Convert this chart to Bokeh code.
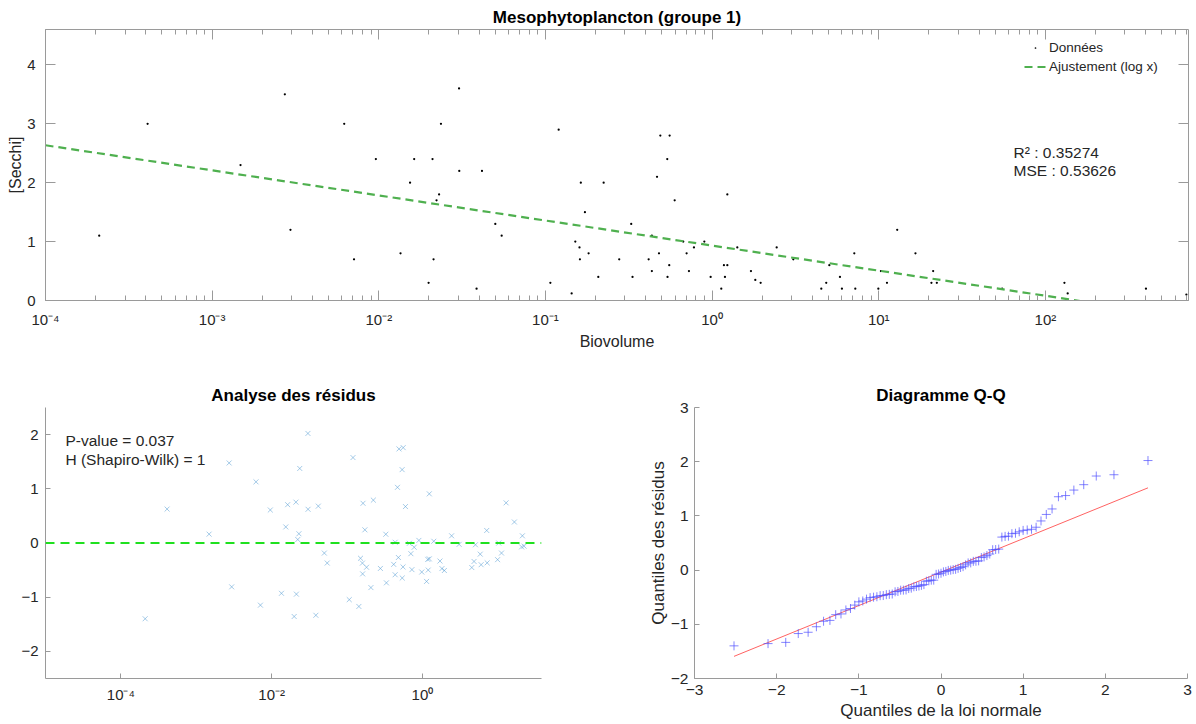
import numpy as np
from statistics import NormalDist
from bokeh.plotting import figure
from bokeh.models import (LogAxis, LinearAxis, Label, Legend, LegendItem,
                          CustomJSTickFormatter, FixedTicker, Range1d, Span)
from bokeh.layouts import column, row
from bokeh.embed import file_html
from bokeh.resources import INLINE

# ---------------- data ----------------
biovolume = [2.1e-4, 4.1e-4, 1.48e-3, 2.73e-3, 2.95e-3, 6.2e-3, 7.1e-3, 9.6e-3,
             0.0135, 0.0154, 0.0163, 0.0199, 0.0210, 0.0213, 0.0222, 0.0230,
             0.0236, 0.0303, 0.0304, 0.0386, 0.0416, 0.050, 0.0546, 0.107,
             0.120, 0.1436, 0.151, 0.160, 0.161, 0.163, 0.1725, 0.1815,
             0.2075, 0.2234, 0.277, 0.327, 0.333, 0.416, 0.435, 0.435,
             0.467, 0.48, 0.489, 0.538, 0.54, 0.553, 0.556, 0.596,
             0.671, 0.703, 0.726, 0.778, 0.898, 0.98, 1.135, 1.177,
             1.194, 1.234, 1.234, 1.416, 1.71, 1.816, 1.955, 2.44,
             3.07, 4.52, 4.84, 5.05, 5.85, 6.01, 7.13, 7.23,
             9.94, 10.3, 11.2, 12.9, 16.6, 20.7, 21.2, 22.3,
             55.0, 130.0, 136.0, 401.0, 701.0]
secchi = [1.10, 3.00, 2.30, 3.50, 1.20, 3.00, 0.70, 2.40,
          0.80, 2.00, 2.40, 0.30, 2.40, 0.70, 1.70, 1.80,
          3.00, 3.60, 2.20, 0.20, 2.20, 1.30, 1.10, 0.30,
          2.90, 0.12, 1.00, 0.90, 0.70, 2.00, 1.50, 0.80,
          0.40, 2.00, 0.70, 1.30, 0.40, 0.70, 1.10, 0.50,
          2.10, 0.80, 2.80, 2.40, 0.40, 0.60, 2.80, 1.70,
          1.00, 0.80, 0.50, 0.90, 1.00, 0.40, 0.20, 0.60,
          0.40, 0.60, 1.80, 0.90, 0.50, 0.35, 0.30, 0.90,
          0.70, 0.20, 0.30, 0.60, 0.40, 0.20, 0.80, 0.20,
          0.20, 0.50, 0.30, 1.20, 0.80, 0.30, 0.50, 0.30,
          0.20, 0.30, 0.12, 0.20, 0.10]

fit_intercept = 0.932      # Secchi = a + b*log10(Biovolume)
fit_slope = -0.4257
r2_value = "0.35274"
mse_value = "0.53626"
p_value = "0.037"
h_shapiro = "1"

titles = ["Mesophytoplancton (groupe 1)", "Analyse des résidus", "Diagramme Q-Q"]

# derived quantities (residuals and Q-Q from the data above)
bio = np.array(biovolume)
sec = np.array(secchi)
fit_x = np.array([1e-4, 722.0])
fit_y = fit_intercept + fit_slope * np.log10(fit_x)
resid = sec - (fit_intercept + fit_slope * np.log10(bio))
n = len(resid)
qq_y = np.sort(resid)
nd = NormalDist()
qq_x = np.array([nd.inv_cdf((i + 0.5) / n) for i in range(n)])
q1, q3 = np.percentile(resid, [25, 75])
z1, z3 = nd.inv_cdf(0.25), nd.inv_cdf(0.75)
qslope = (q3 - q1) / (z3 - z1)
ref_x = np.array([qq_x[0], qq_x[-1]])
ref_y = q1 + qslope * (ref_x - z1)

FONT = "Liberation Sans"
AX = "#9a9a9a"
TXT = "#262626"

sup_js = """
const sup = {'-':'\u207b','0':'\u2070','1':'\u00b9','2':'\u00b2','3':'\u00b3','4':'\u2074','5':'\u2075','6':'\u2076','7':'\u2077','8':'\u2078','9':'\u2079'};
const e = Math.round(Math.log10(tick));
return '10' + String(e).split('').map(c => sup[c]).join('');
"""
blank_js = "return '';"


def style_axis(ax, tick_in, minor_in=0, standoff=6, tick_size="15px", label_size="16px"):
    ax.axis_line_color = AX
    ax.major_tick_line_color = AX
    ax.minor_tick_line_color = AX
    ax.major_tick_in = tick_in
    ax.major_tick_out = 0
    ax.minor_tick_in = minor_in
    ax.minor_tick_out = 0
    ax.major_label_text_font = FONT
    ax.major_label_text_font_size = tick_size
    ax.major_label_text_color = TXT
    ax.major_label_standoff = standoff
    ax.axis_label_text_font = FONT
    ax.axis_label_text_font_size = label_size
    ax.axis_label_text_font_style = "normal"
    ax.axis_label_text_color = TXT


def style_title(p):
    p.title.text_font = FONT
    p.title.text_font_size = "17px"
    p.title.text_font_style = "bold"
    p.title.text_color = "#000000"
    p.title.align = "center"
    p.title.standoff = 6


# ---------------- top figure ----------------
x_major = [1e-4, 1e-3, 1e-2, 1e-1, 1e0, 1e1, 1e2]
x_minor = [m * 10.0 ** e for e in range(-4, 3) for m in range(2, 10)]

p1 = figure(width=1196, height=352, x_axis_type="log",
            x_range=Range1d(1e-4, 722), y_range=Range1d(0, 4.6),
            output_backend="svg", toolbar_location=None,
            title=titles[0], min_border_left=45, min_border_right=8,
            min_border_top=29, min_border_bottom=51)
style_title(p1)
p1.grid.visible = False
p1.outline_line_color = AX

p1.xaxis.ticker = FixedTicker(ticks=x_major, minor_ticks=x_minor)
p1.xaxis.formatter = CustomJSTickFormatter(code=sup_js)
p1.xaxis.axis_label = "Biovolume"
style_axis(p1.xaxis[0], 10, 5, 10)
p1.xaxis.axis_label_standoff = 2
p1.yaxis.ticker = FixedTicker(ticks=[0, 1, 2, 3, 4], minor_ticks=[])
p1.yaxis.axis_label = "[Secchi]"
style_axis(p1.yaxis[0], 10, 0, 10)
p1.yaxis.axis_label_standoff = 0

top_ax = LogAxis(ticker=FixedTicker(ticks=x_major, minor_ticks=x_minor),
                 formatter=CustomJSTickFormatter(code=blank_js))
style_axis(top_ax, 10, 5, 0)
top_ax.axis_line_color = None
p1.add_layout(top_ax, "above")
right_ax = LinearAxis(ticker=FixedTicker(ticks=[0, 1, 2, 3, 4], minor_ticks=[]),
                      formatter=CustomJSTickFormatter(code=blank_js))
style_axis(right_ax, 10, 0, 0)
right_ax.axis_line_color = None
p1.add_layout(right_ax, "right")

r_pts = p1.scatter(biovolume, secchi, size=9, color="black", marker="dot")
r_fit = p1.line(fit_x, fit_y, line_color="#4fb04f", line_width=2.2, line_dash="8 5")

legend = Legend(items=[LegendItem(label="Données", renderers=[r_pts]),
                       LegendItem(label="Ajustement (log x)", renderers=[r_fit])],
                location=(979, 225))
legend.border_line_alpha = 0
legend.background_fill_alpha = 0
legend.label_text_font = FONT
legend.label_text_font_size = "13.5px"
legend.label_text_color = TXT
legend.glyph_width = 22
legend.glyph_height = 17
legend.label_standoff = 3
legend.spacing = 2
legend.padding = 0
legend.margin = 0
p1.add_layout(legend)

p1.add_layout(Label(x=64.4, y=2.52, text="R\u00b2 : " + r2_value, text_font=FONT,
                    text_font_size="15.5px", text_color=TXT, text_baseline="middle"))
p1.add_layout(Label(x=64.4, y=2.20, text="MSE : " + mse_value, text_font=FONT,
                    text_font_size="15.5px", text_color=TXT, text_baseline="middle"))

# ---------------- residuals figure ----------------
p2 = figure(width=610, height=372, x_axis_type="log",
            x_range=Range1d(1e-5, 38), y_range=Range1d(-2.5, 2.5),
            output_backend="svg", toolbar_location=None, title=titles[1],
            min_border_left=45, min_border_right=69, min_border_top=55,
            min_border_bottom=46)
style_title(p2)
p2.grid.visible = False
p2.outline_line_color = None
p2.xaxis.ticker = FixedTicker(ticks=[1e-4, 1e-2, 1e0], minor_ticks=[])
p2.xaxis.formatter = CustomJSTickFormatter(code=sup_js)
style_axis(p2.xaxis[0], 5, 0, 7)
p2.yaxis.ticker = FixedTicker(ticks=[-2, -1, 0, 1, 2], minor_ticks=[])
style_axis(p2.yaxis[0], 5, 0, 7)

p2.scatter(bio, resid, marker="x", size=7, line_color="#5a9fd4", line_alpha=0.55,
           line_width=1)
p2.add_layout(Span(location=0, dimension="width", line_color="#1fe01f",
                   line_width=2.2, line_dash="9 6"))
p2.add_layout(Label(x=1.84e-5, y=1.89, text="P-value = " + p_value, text_font=FONT,
                    text_font_size="15.5px", text_color=TXT, text_baseline="middle"))
p2.add_layout(Label(x=1.84e-5, y=1.54, text="H (Shapiro-Wilk) = " + h_shapiro,
                    text_font=FONT, text_font_size="15.5px", text_color=TXT,
                    text_baseline="middle"))

# ---------------- Q-Q figure ----------------
p3 = figure(width=586, height=372, x_range=Range1d(-3, 3), y_range=Range1d(-2, 3),
            output_backend="svg", toolbar_location=None, title=titles[2],
            min_border_left=84, min_border_right=9, min_border_top=55,
            min_border_bottom=46)
style_title(p3)
p3.grid.visible = False
p3.outline_line_color = None
p3.xaxis.ticker = FixedTicker(ticks=[-3, -2, -1, 0, 1, 2, 3], minor_ticks=[])
style_axis(p3.xaxis[0], 5, 0, 6, "15.5px", "17px")
p3.xaxis.axis_label = "Quantiles de la loi normale"
p3.xaxis.axis_label_standoff = 3
p3.yaxis.ticker = FixedTicker(ticks=[-2, -1, 0, 1, 2, 3], minor_ticks=[])
style_axis(p3.yaxis[0], 5, 0, 6, "15.5px", "17px")
p3.yaxis.axis_label = "Quantiles des résidus"
p3.yaxis.axis_label_standoff = 0

p3.line(ref_x, ref_y, line_color="#ff3b3b", line_width=1, line_alpha=0.8)
p3.scatter(qq_x, qq_y, marker="cross", size=9, line_color="#5050ff", line_alpha=0.7,
           line_width=1)

layout = column(p1, row(p2, p3))
open("out.html", "w").write(file_html(layout, INLINE))
